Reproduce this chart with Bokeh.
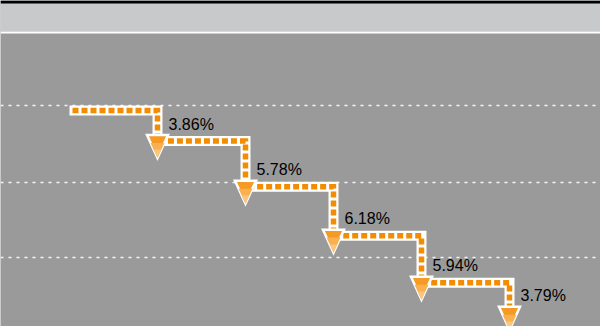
import numpy as np
from bokeh.plotting import figure
from bokeh.models import Range1d, BoxAnnotation, Span, Grid, FixedTicker
from bokeh.core.properties import value
from bokeh.embed import file_html
from bokeh.resources import INLINE

# ---- data ----
steps = [0, 1, 2, 3, 4, 5]
rates = [3.86, 5.78, 6.18, 5.94, 3.79]
rate_labels = ["3.86%", "5.78%", "6.18%", "5.94%", "3.79%"]
grid_ticks = [0.57, -9.03, -18.56]

# cumulative levels: each step drops by its rate
levels = [0.0] + list(-np.cumsum(rates))

# ---- layout / scale ----
W, H = 600, 326
PX_X = 88.0    # pixels per step
PX_Y = 7.92    # pixels per percentage point
X0_PX = 69.0
Y0_PX = 110.0

x_range = Range1d(-X0_PX / PX_X, (W - X0_PX) / PX_X)
y_range = Range1d(-(H - Y0_PX) / PX_Y, Y0_PX / PX_Y)


def py(px):
    return (Y0_PX - px) / PX_Y


p = figure(width=W, height=H, x_range=x_range, y_range=y_range,
           x_axis_type=None, y_axis_type=None,
           output_backend="svg", toolbar_location=None, min_border=0,
           background_fill_color="#9a9a9a", border_fill_color="#9a9a9a",
           outline_line_color=None)

p.add_layout(Grid(dimension=1, ticker=FixedTicker(ticks=grid_ticks),
                  grid_line_color="white", grid_line_dash="3 5",
                  grid_line_width=1.5, grid_line_alpha=0.9))

# header band
p.add_layout(BoxAnnotation(bottom=py(31), fill_color="#c8c9ca", fill_alpha=1,
                           line_color=None))
p.add_layout(BoxAnnotation(bottom=py(3), fill_color="black", fill_alpha=1,
                           line_color=None))
p.add_layout(Span(location=py(32), dimension="width", line_color="white",
                  line_width=2))

# step path
xs, ys = [steps[0]], [levels[0]]
for i in range(1, len(steps)):
    xs += [steps[i], steps[i]]
    ys += [levels[i - 1], levels[i]]

p.line(xs, ys, line_color="white", line_width=10, line_join="miter",
       line_cap="butt")
p.line(xs, ys, line_color="#f28c00", line_width=5.5, line_dash="6 3",
       line_dash_offset=6, line_join="miter", line_cap="butt")

# arrow heads
hw = 10.5 / PX_X
top = 6 / PX_Y
tip = 17 / PX_Y
tri_xs = [[s - hw, s + hw, s] for s in steps[1:]]
tri_ys = [[L + top, L + top, L - tip] for L in levels[1:]]
p.patches(tri_xs, tri_ys, fill_color="#f59a25", line_color="white",
          line_width=2.5, line_join="miter")
# lighter lower part (gradient imitation)
for frac, col in [(0.66, "#f8b050"), (0.36, "#fbc67c")]:
    fx = [[s - hw * frac, s + hw * frac, s] for s in steps[1:]]
    fy = [[L - tip + (top + tip) * frac, L - tip + (top + tip) * frac, L - tip]
          for L in levels[1:]]
    p.patches(fx, fy, fill_color=col, line_color=None)

p.text(x=steps[1:], y=levels[1:], text=rate_labels, x_offset=11, y_offset=-17,
       text_align="left", text_baseline="middle",
       text_font=value("Liberation Sans"), text_font_size="16px",
       text_color="#000000")

open("out.html", "w").write(file_html(p, INLINE))
